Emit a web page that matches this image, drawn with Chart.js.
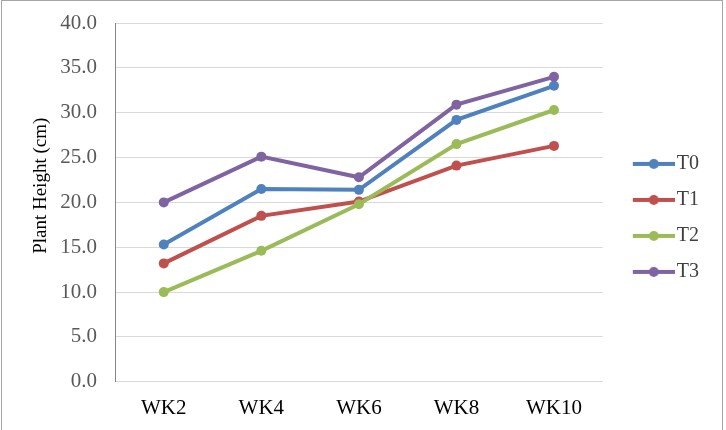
<!DOCTYPE html>
<html>
<head>
<meta charset="utf-8">
<script src="https://cdn.jsdelivr.net/npm/chart.js@4"></script>
<style>
    html, body { margin: 0; padding: 0; background: #fff; overflow: hidden; }
    #wrap { position: relative; width: 726px; height: 430px; }
    #frame { position: absolute; left: 1px; top: 0; width: 720px; height: 460px; border: 1px solid #a6a6a6; pointer-events: none; }
</style>
</head>
<body>
<div id="wrap">
    <canvas id="chart" width="726" height="430"></canvas>
    <div id="frame"></div>
</div>
<script>
// chart data
const weeks = ['WK2', 'WK4', 'WK6', 'WK8', 'WK10'];
const t0 = [15.3, 21.5, 21.4, 29.2, 33.0];
const t1 = [13.2, 18.5, 20.1, 24.1, 26.3];
const t2 = [10.0, 14.6, 19.8, 26.5, 30.3];
const t3 = [20.0, 25.1, 22.8, 30.9, 34.0];
const seriesNames = ['T0', 'T1', 'T2', 'T3'];
const colors = ['#4F81BD', '#C0504D', '#9BBB59', '#8064A2'];

const serif = "'Liberation Serif', 'Times New Roman', serif";

// legend symbol: line with a dot, like Excel
function legendSymbol(color) {
    const c = document.createElement('canvas');
    c.width = 64;
    c.height = 12;
    const g = c.getContext('2d');
    g.strokeStyle = color;
    g.lineWidth = 4;
    g.beginPath();
    g.moveTo(22, 6);
    g.lineTo(64, 6);
    g.stroke();
    g.fillStyle = color;
    g.beginPath();
    g.arc(43, 6, 5, 0, Math.PI * 2);
    g.fill();
    return c;
}

const values = [t0, t1, t2, t3];
const datasets = values.map((data, i) => ({
    label: seriesNames[i],
    data,
    borderColor: colors[i],
    backgroundColor: colors[i],
    pointBackgroundColor: colors[i],
    pointBorderColor: colors[i],
    pointStyle: 'circle',
    legendSymbol: legendSymbol(colors[i]),
    borderWidth: 4,
    pointRadius: 5,
    pointBorderWidth: 0,
    tension: 0,
    order: values.length - i // later series drawn on top
}));

// the title sits a bit above the middle of the axis in the original
const yTitle = '\u00a0'.repeat(7) + 'Plant Height (cm)';

new Chart(document.getElementById('chart'), {
    type: 'line',
    data: { labels: weeks, datasets },
    options: {
        responsive: false,
        animation: false,
        layout: { padding: { left: 30, top: 23, right: 17, bottom: 9 } },
        scales: {
            x: {
                offset: true,
                grid: { display: false, drawTicks: false },
                border: { color: '#d9d9d9', width: 1 },
                ticks: { color: '#000', padding: 14, font: { family: serif, size: 21 } },
                afterFit: scale => { scale.height = 39.2; }
            },
            y: {
                min: 0,
                max: 40,
                ticks: {
                    stepSize: 5,
                    padding: 18,
                    color: '#595959',
                    font: { family: serif, size: 21 },
                    callback: v => v.toFixed(1)
                },
                grid: { color: '#d9d9d9', drawTicks: false },
                border: { color: '#868686', width: 1 },
                title: {
                    display: true,
                    text: yTitle,
                    color: '#000',
                    padding: 0,
                    font: { family: serif, size: 19 }
                },
                afterFit: scale => {
                    scale.width = 85;
                    scale.paddingTop = 0;
                    scale.paddingBottom = 0;
                }
            }
        },
        plugins: {
            tooltip: { enabled: false },
            legend: {
                position: 'right',
                fullSize: false,
                reverse: true,
                title: { display: true, text: ' ', font: { size: 10 }, padding: { top: 19, bottom: 0 } },
                labels: {
                    usePointStyle: true,
                    pointStyleWidth: 48,
                    padding: 16,
                    color: '#404040',
                    font: { family: serif, size: 20 },
                    generateLabels: chart => {
                        const items = Chart.defaults.plugins.legend.labels.generateLabels(chart);
                        items.forEach(it => {
                            it.pointStyle = chart.data.datasets[it.datasetIndex].legendSymbol;
                        });
                        return items;
                    }
                }
            }
        }
    }
});
</script>
</body>
</html>
